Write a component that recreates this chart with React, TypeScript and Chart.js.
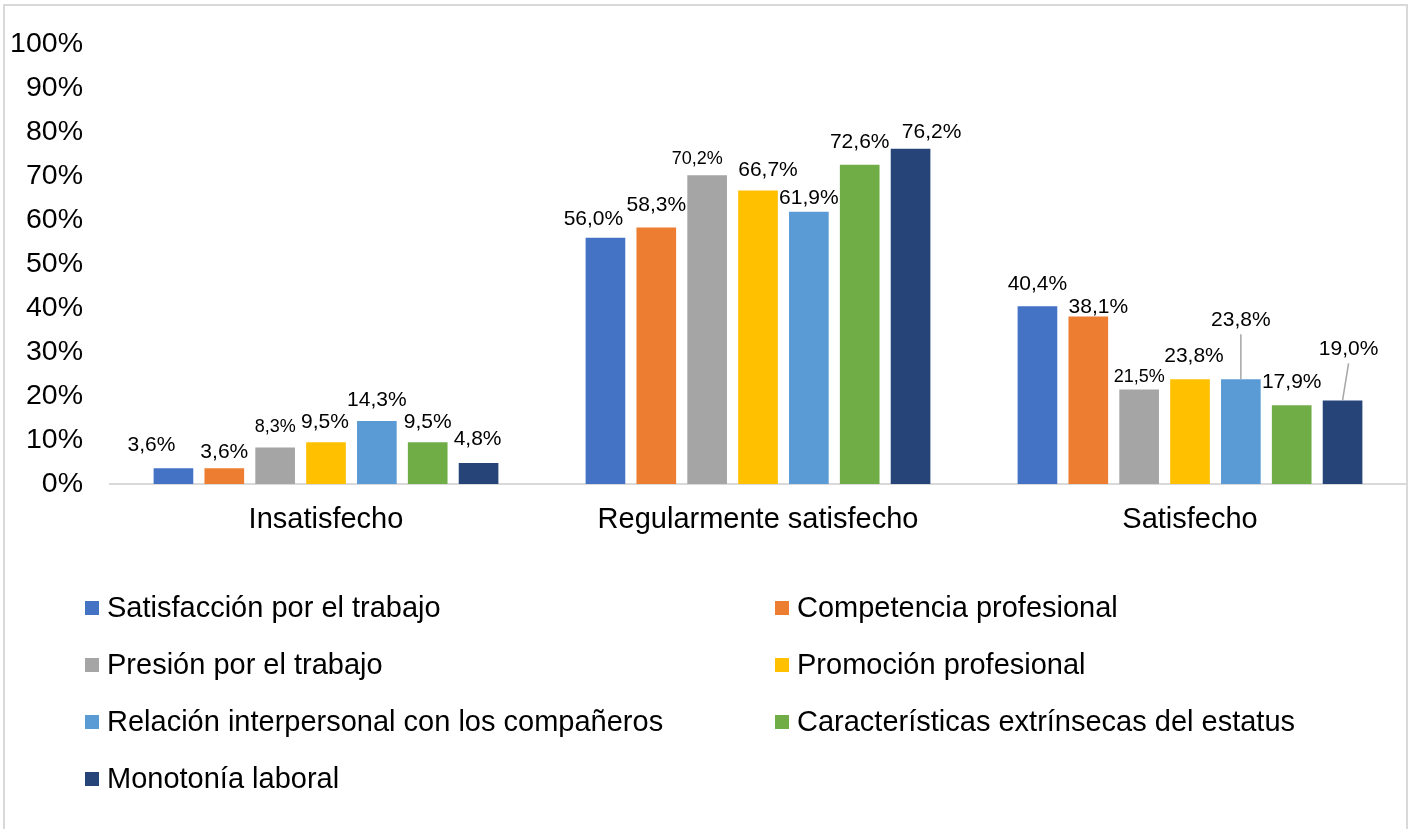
import React, { useEffect, useRef } from 'react';
import { Chart, registerables } from 'chart.js';

Chart.register(...registerables);

// ---- data ----
const categories = ['Insatisfecho', 'Regularmente satisfecho', 'Satisfecho'];
const seriesNames = [
  'Satisfacción por el trabajo',
  'Competencia profesional',
  'Presión por el trabajo',
  'Promoción profesional',
  'Relación interpersonal con los compañeros',
  'Características extrínsecas del estatus',
  'Monotonía laboral',
];
const satisfaccionTrabajo = [3.6, 56.0, 40.4];
const competenciaProfesional = [3.6, 58.3, 38.1];
const presionTrabajo = [8.3, 70.2, 21.5];
const promocionProfesional = [9.5, 66.7, 23.8];
const relacionInterpersonal = [14.3, 61.9, 23.8];
const caracteristicasExtrinsecas = [9.5, 72.6, 17.9];
const monotoniaLaboral = [4.8, 76.2, 19.0];
const seriesValues = [
  satisfaccionTrabajo,
  competenciaProfesional,
  presionTrabajo,
  promocionProfesional,
  relacionInterpersonal,
  caracteristicasExtrinsecas,
  monotoniaLaboral,
];
const yMin = 0;
const yMax = 100;
const yStep = 10;

// ---- styles ----
const seriesColors = ['#4472C4', '#ED7D31', '#A5A5A5', '#FFC000', '#5B9BD5', '#70AD47', '#264478'];
const labelFontSizes = [21, 21, 18, 21, 21, 21, 21];
// per series, per category: [dx, dy] nudge of data label (Excel manual placement)
const labelNudges = [
  [[-22, -3], [-12, 2], [0, -2]],
  [[0, 4], [0, -2], [10, 11]],
  [[0, 0], [-10, 4], [0, 8]],
  [[-1, 0], [10, 0], [4, -3]],
  [[0, -1], [0, 7], [0, -39]],
  [[0, 0], [0, -2], [0, -3]],
  [[-1, -4], [21, 3], [6, -31]],
];
const leaderLines = [
  [4, 2],
  [6, 2],
];
const FONT = '"Liberation Sans", Arial, Helvetica, sans-serif';

const fmt = (v: number) => v.toFixed(1).replace('.', ',') + '%';

const dataLabelPlugin = {
  id: 'dataLabelsCustom',
  afterDatasetsDraw(chart: any) {
    const ctx = chart.ctx;
    ctx.save();
    ctx.textAlign = 'center';
    ctx.textBaseline = 'middle';
    chart.data.datasets.forEach((ds: any, i: number) => {
      const meta = chart.getDatasetMeta(i);
      meta.data.forEach((bar: any, j: number) => {
        const [dx, dy] = labelNudges[i][j];
        const lx = bar.x + dx;
        const ly = bar.y - 20 + dy;
        if (leaderLines.some(([s, c]) => s === i && c === j)) {
          ctx.strokeStyle = '#a6a6a6';
          ctx.lineWidth = 1.5;
          ctx.beginPath();
          ctx.moveTo(lx, ly + 14);
          ctx.lineTo(bar.x, bar.y);
          ctx.stroke();
        }
        ctx.font = `${labelFontSizes[i]}px ${FONT}`;
        ctx.fillStyle = '#000000';
        ctx.fillText(fmt(ds.data[j]), lx, ly);
      });
    });
    ctx.restore();
  },
};

const gridLegendPlugin = {
  id: 'gridLegend',
  afterDraw(chart: any, _args: any, opts: any) {
    const ctx = chart.ctx;
    ctx.save();
    ctx.font = `${opts.fontSize}px ${FONT}`;
    ctx.textAlign = 'left';
    ctx.textBaseline = 'middle';
    chart.data.datasets.forEach((ds: any, i: number) => {
      const col = i % 2;
      const row = Math.floor(i / 2);
      const x = opts.columns[col];
      const y = opts.top + row * opts.rowGap;
      ctx.fillStyle = ds.backgroundColor;
      ctx.fillRect(x, y - opts.box / 2, opts.box, opts.box);
      ctx.fillStyle = '#000000';
      ctx.fillText(ds.label, x + opts.box + opts.gap, y + 1);
    });
    ctx.restore();
  },
};

export default function App() {
  const canvasRef = useRef<HTMLCanvasElement | null>(null);

  useEffect(() => {
    if (!canvasRef.current) return;
    const chart = new Chart(canvasRef.current, {
      type: 'bar',
      data: {
        labels: categories,
        datasets: seriesNames.map((name, i) => ({
          label: name,
          data: seriesValues[i],
          backgroundColor: seriesColors[i],
          borderWidth: 0,
          categoryPercentage: 0.824,
          barPercentage: 0.78,
        })),
      },
      options: {
        responsive: false,
        animation: false,
        layout: { padding: { left: 0, right: 7, top: 43, bottom: 0 } },
        plugins: {
          legend: { display: false },
          tooltip: { enabled: false },
          gridLegend: { columns: [85, 775], top: 608, rowGap: 57, box: 14, gap: 8, fontSize: 29 },
        } as any,
        scales: {
          x: {
            grid: { display: false, drawTicks: false },
            border: { display: true, color: '#d9d9d9', width: 2 },
            ticks: { color: '#000000', font: { family: FONT, size: 29 }, padding: 19, maxRotation: 0 },
            afterFit: (scale: any) => {
              scale.height = 829 - 484;
            },
          },
          y: {
            min: yMin,
            max: yMax,
            grid: { display: false, drawTicks: false },
            border: { display: false },
            ticks: {
              stepSize: yStep,
              color: '#000000',
              font: { family: FONT, size: 28.5 },
              padding: 27,
              callback: (v: any) => `${v}%`,
            },
            afterFit: (scale: any) => {
              scale.width = 110;
            },
          },
        },
      },
      plugins: [dataLabelPlugin, gridLegendPlugin],
    });
    return () => chart.destroy();
  }, []);

  return (
    <div
      style={{
        position: 'fixed',
        left: 0,
        top: 0,
        width: 1413,
        height: 829,
        background: '#ffffff',
        overflow: 'hidden',
      }}
    >
      <div
        style={{
          position: 'absolute',
          left: 3,
          top: 4,
          width: 1401,
          height: 900,
          border: '2px solid #d9d9d9',
        }}
      />
      <canvas
        ref={canvasRef}
        width={1413}
        height={829}
        style={{ position: 'absolute', left: 0, top: 0, width: 1413, height: 829 }}
      />
    </div>
  );
}
